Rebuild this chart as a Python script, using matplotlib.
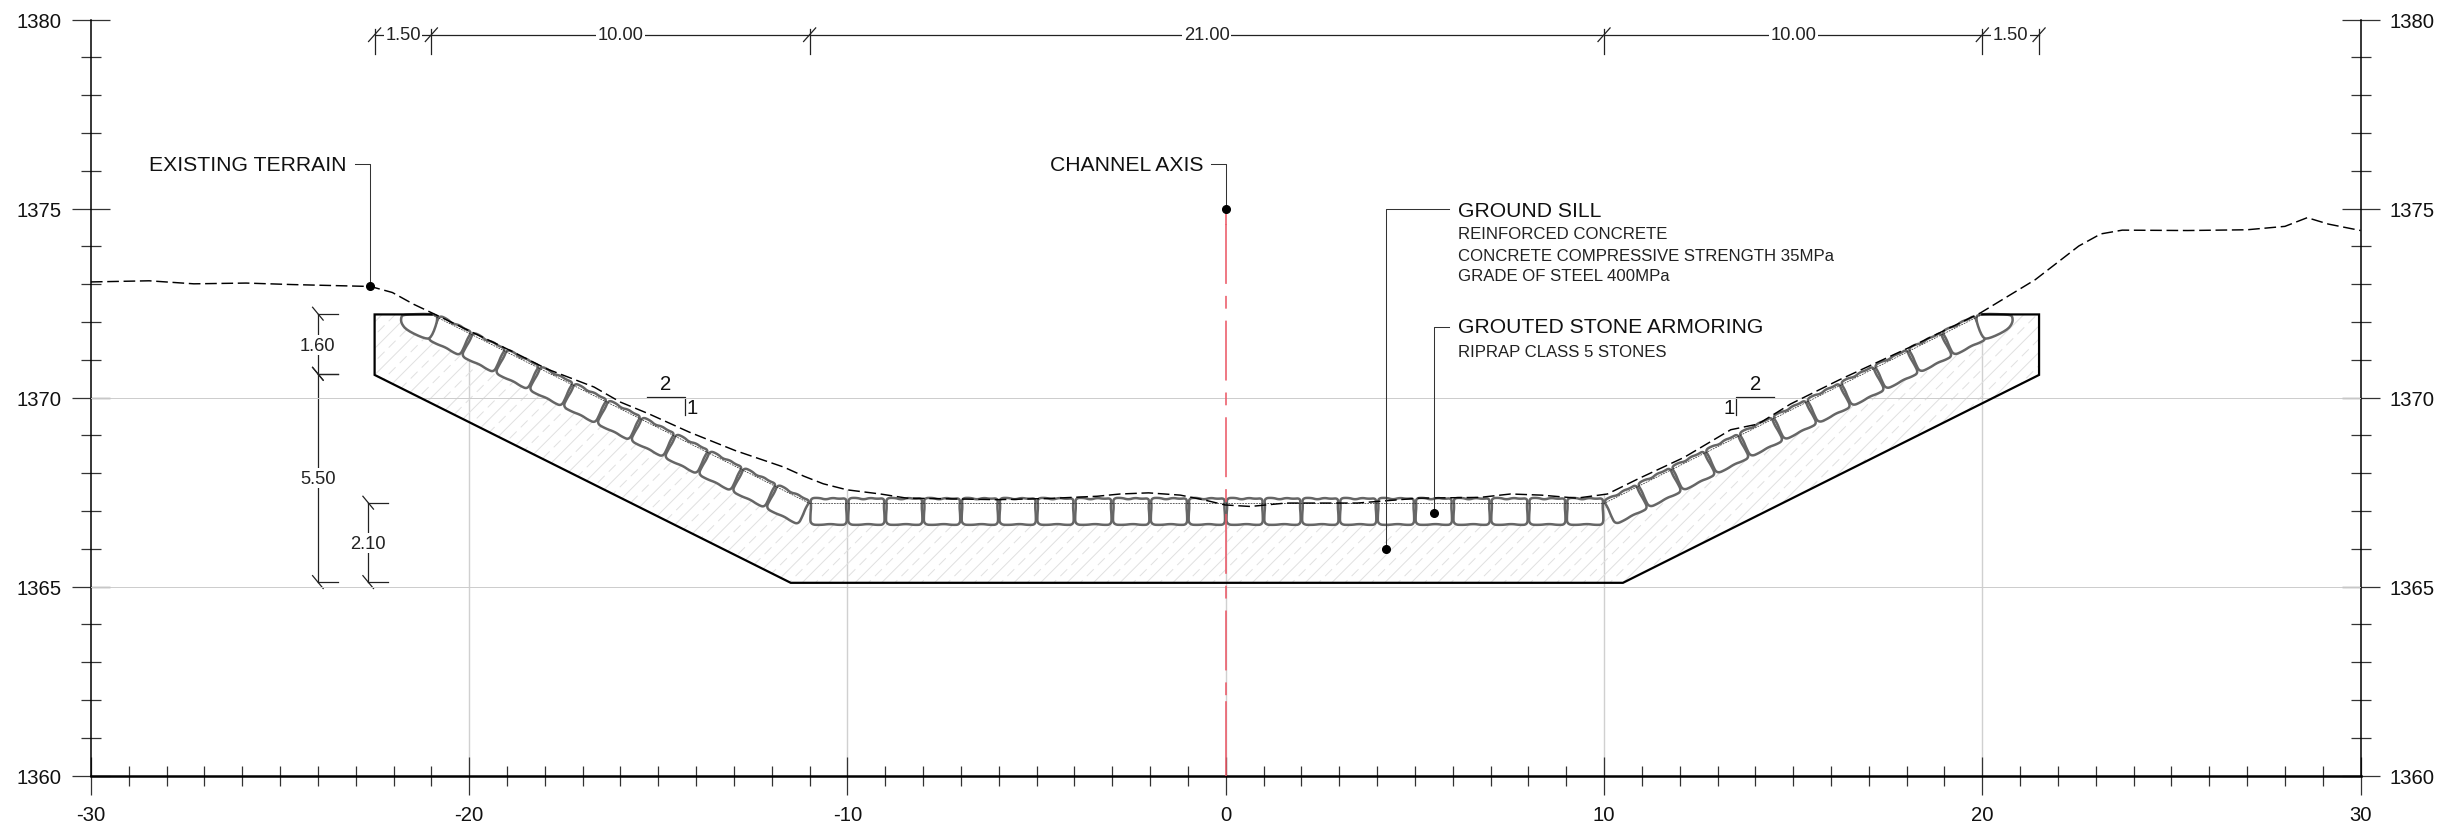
import numpy as np
import matplotlib
matplotlib.use("Agg")
import matplotlib.pyplot as plt
from matplotlib.patches import Polygon

plt.rcParams["font.family"] = ["Liberation Sans", "DejaVu Sans"]
plt.rcParams["axes.unicode_minus"] = False

# terrain profile
terrain_x = [-30, -28.46, -27.28, -25.9, -24.66, -22.61, -22.03, -21.47, -20.92, -19.9, -18.9, -17.95,
             -16.7, -16, -15.25, -14.19, -12.97, -11.68, -11.15, -10.64, -10.01, -9.13, -8.43, -7.2,
             -6.05, -4.72, -3.4, -2.79, -2.04, -1.2, -0.6, -0.02, 0.65, 1.59, 3.48, 5.1, 6.72, 7.53,
             8.34, 9.28, 10.09, 10.9, 12.12, 13.35, 14.07, 14.93, 16.22, 18.1, 19.95, 21.4, 22.55,
             23.13, 23.7, 25.43, 27, 28, 28.59, 29.15, 30]
terrain_y = [1373.06, 1373.09, 1373.01, 1373.03, 1372.99, 1372.94, 1372.78, 1372.47, 1372.21, 1371.72, 1371.24, 1370.76,
             1370.28, 1369.88, 1369.57, 1369.09, 1368.6, 1368.16, 1367.92, 1367.72, 1367.56, 1367.45, 1367.34, 1367.32,
             1367.3, 1367.33, 1367.39, 1367.45, 1367.48, 1367.42, 1367.3, 1367.16, 1367.12, 1367.21, 1367.21, 1367.34, 1367.36, 1367.45,
             1367.42, 1367.34, 1367.45, 1367.85, 1368.42, 1369.15, 1369.3, 1369.83, 1370.47, 1371.34, 1372.24, 1373.12, 1374.01,
             1374.33, 1374.43, 1374.42, 1374.44, 1374.53, 1374.76, 1374.59, 1374.42]

# concrete outline and design profile
sill_x = [-21, -22.5, -22.5, -11.5, 10.5, 21.5, 21.5, 20]
sill_y = [1372.2, 1372.2, 1370.6, 1365.1, 1365.1, 1370.6, 1372.2, 1372.2]
design_x = [-21, -11, 10, 20]
design_y = [1372.2, 1367.2, 1367.2, 1372.2]

# one stone outline, local coords: u along the surface, v down from it
stone_u = [-0.48, -0.25, -0.08, 0.1, 0.27, 0.48, 0.46, 0.48, 0.48, 0.27, 0.05, -0.2, -0.48, -0.48, -0.46]
stone_v = [0.0, 0.01, -0.04, 0.01, -0.02, 0.0, -0.22, -0.44, -0.7, -0.71, -0.68, -0.71, -0.7, -0.44, -0.22]
stub_x = [-21.8, -21.72, -20.9, -20.82, -21.0, -21.16, -21.65, -21.8]
stub_y = [1372.14, 1372.2, 1372.22, 1372.08, 1371.58, 1371.55, 1371.78, 1371.97]

grid_y = [1365, 1370]
grid_x = [-20, -10, 0, 10, 20]
grid_top = [1371.7, 1367.55, 1367.2, 1367.45, 1372.2]

dim_h_x = [-22.5, -21, -11, 10, 20, 21.5]
dim_h_text = ["1.50", "10.00", "21.00", "10.00", "1.50"]
dim_h_y = 1379.6


def smooth(xs, ys, n=3):
    # corner cutting so the stones get round corners
    p = np.column_stack([xs, ys])
    for _ in range(n):
        q = np.roll(p, -1, axis=0)
        a = 0.75 * p + 0.25 * q
        b = 0.25 * p + 0.75 * q
        p = np.column_stack([a, b]).reshape(-1, 2)
    return p


fig = plt.figure(figsize=(24.52, 8.29), dpi=100)
ax = fig.add_axes([90.9 / 2452, 52.4 / 829, 2269.7 / 2452, 756 / 829])
ax.set_xlim(-30, 30)
ax.set_ylim(1360, 1380)

ax.spines["top"].set_visible(False)
ax.spines["left"].set_linewidth(1.1)
ax.spines["right"].set_linewidth(1.1)
ax.spines["bottom"].set_linewidth(1.8)

ax.set_xticks(np.arange(-30, 31, 10))
ax.set_xticks(np.arange(-30, 31, 1), minor=True)
ax.set_yticks(np.arange(1360, 1381, 5))
ax.set_yticks(np.arange(1360, 1381, 1), minor=True)
ax.tick_params(which="major", direction="inout", length=28, width=0.9, color="#333333", labelsize=14.6,
               left=True, right=True, labelleft=True, labelright=True, labelcolor="#111111")
ax.tick_params(which="minor", direction="inout", length=14, width=0.9, color="#333333", left=True, right=True)
ax.tick_params(axis="y", which="major", pad=7)
ax.tick_params(axis="x", which="major", pad=7)

for g in grid_y:
    ax.axhline(g, color="#cccccc", lw=0.7, zorder=3)
for g, t in zip(grid_x, grid_top):
    ax.plot([g, g], [1360, t], color="#d0d0d0", lw=1.0, zorder=1)

# concrete body with alternating solid and dashed hatch
body = Polygon(np.column_stack([sill_x + design_x[::-1][1:-1], sill_y + design_y[::-1][1:-1]]),
               closed=True, fc="none", ec="none")
ax.add_patch(body)
for i, c in enumerate(np.arange(1349, 1395, 0.35)):
    ls = "-" if i % 2 == 0 else (0, (10, 6))
    xx = np.array([-23.0, 22.0])
    line, = ax.plot(xx, xx + c, color="#e0e0e0", lw=0.7, ls=ls, zorder=1.5)
    line.set_clip_path(body)

ax.plot(sill_x, sill_y, color="black", lw=1.6, solid_joinstyle="miter", zorder=5)

# stones along the design profile
outline = smooth(stone_u, stone_v)


def add_stone(cx, cy, ang, lift):
    a = np.radians(ang)
    u = outline[:, 0]
    v = outline[:, 1] + lift
    xs = cx + u * np.cos(a) - v * np.sin(a)
    ys = cy + u * np.sin(a) + v * np.cos(a)
    ax.add_patch(Polygon(np.column_stack([xs, ys]), closed=True, fc="white", ec="#666666", lw=1.8,
                         joinstyle="round", zorder=4))


for c in np.arange(-10.5, 10, 1.0):
    add_stone(c, 1367.2, 0, 0.14)
slope_ang = np.degrees(np.arctan(0.5))
step = 1.0 / np.sqrt(1.25)
for k in range(11):
    d = (k + 0.5) * step
    add_stone(-11 - d, 1367.2 + d / 2, -slope_ang, 0.07)
    add_stone(10 + d, 1367.2 + d / 2, slope_ang, 0.07)
stub = smooth(stub_x, stub_y, 2)
ax.add_patch(Polygon(stub, closed=True, fc="white", ec="#666666", lw=1.8, zorder=4))
ax.add_patch(Polygon(np.column_stack([-1 - stub[:, 0], stub[:, 1]]), closed=True, fc="white", ec="#666666", lw=1.8, zorder=4))

ax.plot(design_x, design_y, color="#222222", lw=0.5, ls=(0, (2.5, 1.5)), zorder=4.5)
ax.plot(terrain_x, terrain_y, color="black", lw=1.05, ls=(0, (8, 3.2)), zorder=6, clip_on=False)

# channel axis: solid ends with a long-short dash pattern between
ax.plot([0, 0], [1374.6, 1361.95], color="#ec5a68", lw=1.15, ls=(0, (37.5, 7.5, 8, 7.5)), zorder=4.6)
ax.plot([0, 0], [1375, 1374.6], color="#ec5a68", lw=1.15, zorder=4.6)
ax.plot([0, 0], [1361.95, 1360], color="#ec5a68", lw=1.15, zorder=4.6)


def leader(xs, ys):
    ax.plot(xs, ys, color="#333333", lw=0.75, zorder=6)
    ax.plot(xs[-1], ys[-1], "o", color="black", ms=5.5, zorder=7)


leader([-23.03, -22.63, -22.63], [1376.18, 1376.18, 1372.94])
leader([-0.38, 0, 0], [1376.18, 1376.18, 1375])
leader([5.9, 4.24, 4.24], [1375.0, 1375.0, 1366.0])
leader([5.9, 5.5, 5.5], [1371.88, 1371.88, 1366.95])

ax.text(-23.23, 1376.16, "EXISTING TERRAIN", ha="right", va="center", fontsize=15.25, color="#111111")
ax.text(-0.6, 1376.16, "CHANNEL AXIS", ha="right", va="center", fontsize=15.25, color="#111111")
tx = 6.14
ax.text(tx, 1374.96, "GROUND SILL", ha="left", va="center", fontsize=15.25, color="#111111")
ax.text(tx, 1374.34, "REINFORCED CONCRETE", ha="left", va="center", fontsize=12.1, color="#222222")
ax.text(tx, 1373.76, "CONCRETE COMPRESSIVE STRENGTH 35MPa", ha="left", va="center", fontsize=12.1, color="#222222")
ax.text(tx, 1373.22, "GRADE OF STEEL 400MPa", ha="left", va="center", fontsize=12.1, color="#222222")
ax.text(tx, 1371.88, "GROUTED STONE ARMORING", ha="left", va="center", fontsize=15.25, color="#111111")
ax.text(tx, 1371.23, "RIPRAP CLASS 5 STONES", ha="left", va="center", fontsize=12.1, color="#222222")

# horizontal dimension chain
ax.plot([dim_h_x[0], dim_h_x[-1]], [dim_h_y, dim_h_y], color="#222222", lw=0.9, zorder=2)
for x in dim_h_x:
    ax.plot([x, x], [dim_h_y + 0.16, dim_h_y - 0.5], color="#222222", lw=0.9)
    ax.plot([x - 0.16, x + 0.16], [dim_h_y - 0.18, dim_h_y + 0.18], color="#222222", lw=0.9)
for a, b, t in zip(dim_h_x[:-1], dim_h_x[1:], dim_h_text):
    ax.text((a + b) / 2, dim_h_y, t, ha="center", va="center", fontsize=13.2, color="#222222",
            bbox=dict(fc="white", ec="none", pad=1.2))


# vertical dimensions
def vdim(x, y0, y1, text, ty):
    ax.plot([x, x], [y0, y1], color="#222222", lw=0.9, zorder=2)
    for y in (y0, y1):
        ax.plot([x, x + 0.52], [y, y], color="#222222", lw=0.9)
        ax.plot([x - 0.14, x + 0.14], [y + 0.17, y - 0.17], color="#222222", lw=0.9)
    ax.text(x, ty, text, ha="center", va="center", fontsize=13.2, color="#222222",
            bbox=dict(fc="white", ec="none", pad=1.2))


vdim(-24, 1370.63, 1372.22, "1.60", 1371.39)
vdim(-24, 1365.12, 1370.63, "5.50", 1367.87)
vdim(-22.67, 1365.12, 1367.22, "2.10", 1366.15)

# slope marks
ax.plot([-15.3, -14.3, -14.3], [1370.02, 1370.02, 1369.53], color="#222222", lw=0.9)
ax.text(-14.8, 1370.36, "2", ha="center", va="center", fontsize=14.6, color="#111111")
ax.text(-14.1, 1369.73, "1", ha="center", va="center", fontsize=14.6, color="#111111")
ax.plot([13.5, 13.5, 14.5], [1369.53, 1370.02, 1370.02], color="#222222", lw=0.9)
ax.text(14.0, 1370.36, "2", ha="center", va="center", fontsize=14.6, color="#111111")
ax.text(13.3, 1369.73, "1", ha="center", va="center", fontsize=14.6, color="#111111")

fig.savefig("out.png", dpi=100, facecolor="white")
